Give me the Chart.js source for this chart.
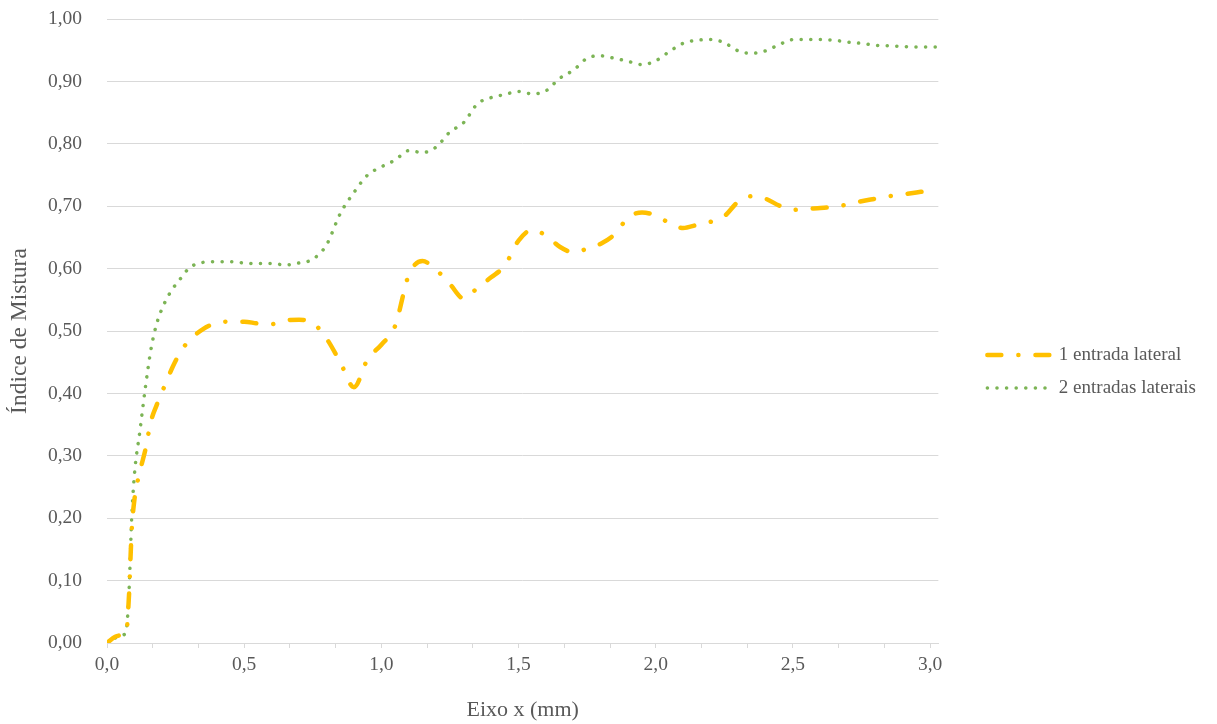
<!DOCTYPE html>
<html>
<head>
<meta charset="utf-8">
<script src="https://cdn.jsdelivr.net/npm/chart.js@4"></script>
<style>
  html, body { margin: 0; padding: 0; background: #fff; }
  #wrap { width: 1217px; height: 724px; }
</style>
</head>
<body>
<div id="wrap"><canvas id="chart"></canvas></div>
<script>
// x positions (mm) shared by both series
const xValues = [0, 0.03, 0.06, 0.07, 0.08, 0.09, 0.10, 0.12, 0.14, 0.16, 0.18, 0.21, 0.24, 0.27, 0.30,
  0.35, 0.40, 0.45, 0.50, 0.55, 0.60, 0.65, 0.70, 0.75, 0.80, 0.85, 0.90, 0.95, 1.00,
  1.05, 1.10, 1.15, 1.20, 1.25, 1.30, 1.35, 1.40, 1.45, 1.50, 1.55, 1.60, 1.65, 1.70, 1.75,
  1.80, 1.85, 1.90, 1.95, 2.00, 2.05, 2.10, 2.15, 2.20, 2.25, 2.30, 2.35, 2.40, 2.45, 2.50,
  2.55, 2.60, 2.65, 2.70, 2.75, 2.80, 2.85, 2.90, 2.95, 3.00, 3.02];

// Índice de Mistura, 1 entrada lateral
const umaEntrada = [0, 0.010, 0.013, 0.016, 0.075, 0.18, 0.23, 0.275, 0.31, 0.355, 0.38, 0.412, 0.443, 0.468, 0.485,
  0.503, 0.513, 0.515, 0.515, 0.512, 0.511, 0.517, 0.518, 0.513, 0.488, 0.450, 0.410, 0.455, 0.478,
  0.508, 0.590, 0.612, 0.598, 0.575, 0.552, 0.569, 0.586, 0.605, 0.645, 0.662, 0.653, 0.635, 0.626, 0.632,
  0.640, 0.655, 0.682, 0.690, 0.685, 0.673, 0.665, 0.670, 0.675, 0.684, 0.707, 0.716, 0.712, 0.701, 0.694,
  0.696, 0.697, 0.699, 0.703, 0.708, 0.712, 0.716, 0.719, 0.722, 0.725, 0.726];

// Índice de Mistura, 2 entradas laterais
const duasEntradas = [0, 0.008, 0.013, 0.020, 0.080, 0.20, 0.27, 0.34, 0.41, 0.47, 0.51, 0.545, 0.568, 0.585, 0.601,
  0.610, 0.611, 0.611, 0.609, 0.608, 0.608, 0.606, 0.609, 0.615, 0.638, 0.688, 0.722, 0.750, 0.763,
  0.774, 0.789, 0.786, 0.795, 0.819, 0.834, 0.864, 0.874, 0.879, 0.884, 0.880, 0.885, 0.905, 0.918, 0.937,
  0.941, 0.937, 0.932, 0.927, 0.933, 0.948, 0.961, 0.966, 0.967, 0.962, 0.949, 0.945, 0.949, 0.959, 0.967,
  0.967, 0.967, 0.966, 0.963, 0.961, 0.958, 0.957, 0.956, 0.955, 0.955, 0.955];

const seriesNames = ['1 entrada lateral', '2 entradas laterais'];
const xTickLabels = ['0,0', '0,5', '1,0', '1,5', '2,0', '2,5', '3,0'];

const fontFamily = '"Liberation Serif", "Times New Roman", serif';
const textColor = '#595959';
const gridColor = '#d9d9d9';

// push the legend items a bit away from the plot area
const legendShift = {
  id: 'legendShift',
  afterLayout(chart) {
    if (chart.legend) {
      chart.legend.left += 35;
      chart.legend.right += 35;
    }
  }
};

const ctx = document.getElementById('chart');
new Chart(ctx, {
  type: 'line',
  data: {
    datasets: [
      {
        label: seriesNames[0],
        data: xValues.map((x, i) => ({ x: x, y: umaEntrada[i] })),
        borderColor: '#FFC000',
        backgroundColor: '#FFC000',
        borderWidth: 4.5,
        borderDash: [14, 17, 0.1, 17],
        borderCapStyle: 'round',
        pointRadius: 0,
        cubicInterpolationMode: 'monotone',
        fill: false
      },
      {
        label: seriesNames[1],
        data: xValues.map((x, i) => ({ x: x, y: duasEntradas[i] })),
        borderColor: '#7CB455',
        backgroundColor: '#7CB455',
        borderWidth: 3.5,
        borderDash: [0.1, 9.5],
        borderCapStyle: 'round',
        pointRadius: 0,
        cubicInterpolationMode: 'monotone',
        fill: false
      }
    ]
  },
  plugins: [legendShift],
  options: {
    responsive: true,
    maintainAspectRatio: false,
    animation: false,
    layout: { padding: { top: 19, right: 46, bottom: 0, left: 0 } },
    plugins: {
      tooltip: { enabled: false },
      legend: {
        position: 'right',
        labels: {
          usePointStyle: true,
          pointStyle: 'line',
          pointStyleWidth: 62,
          boxHeight: 19,
          padding: 14,
          color: textColor,
          font: { family: fontFamily, size: 19 },
          // keep the dash pattern of each series in the legend sample
          generateLabels: chart => {
            const items = Chart.defaults.plugins.legend.labels.generateLabels(chart);
            items.forEach((it, i) => {
              const ds = chart.data.datasets[i];
              it.lineDash = ds.borderDash;
              it.lineCap = 'round';
              it.lineWidth = ds.borderWidth;
              it.strokeStyle = ds.borderColor;
            });
            return items;
          }
        }
      }
    },
    scales: {
      x: {
        type: 'linear',
        min: 0,
        max: 3.03,
        afterBuildTicks: s => {
          const t = [];
          for (let i = 0; i <= 18; i++) t.push({ value: i / 6 });
          s.ticks = t;
        },
        afterFit: s => { s.height = 81; },
        ticks: {
          autoSkip: false,
          maxRotation: 0,
          padding: 5,
          color: textColor,
          font: { family: fontFamily, size: 19.5 },
          callback: (v, i) => (i % 3 === 0 ? xTickLabels[i / 3] : '')
        },
        grid: { drawOnChartArea: false, drawTicks: true, tickLength: 5, color: gridColor },
        border: { color: gridColor },
        title: {
          display: true,
          text: 'Eixo x (mm)',
          color: textColor,
          font: { family: fontFamily, size: 22 },
          padding: { top: 0, bottom: 1 }
        }
      },
      y: {
        min: 0,
        max: 1,
        afterFit: s => {
          s.width = 107;
          s.paddingTop = 0;
          s.paddingBottom = 0;
        },
        ticks: {
          stepSize: 0.1,
          padding: 25,
          color: textColor,
          font: { family: fontFamily, size: 19.5 },
          callback: v => v.toFixed(2).replace('.', ',')
        },
        grid: { color: gridColor, drawTicks: false },
        border: { display: false },
        title: {
          display: true,
          text: 'Índice de Mistura',
          color: textColor,
          font: { family: fontFamily, size: 23.5 },
          padding: { top: 6, bottom: 0 }
        }
      }
    }
  }
});
</script>
</body>
</html>
